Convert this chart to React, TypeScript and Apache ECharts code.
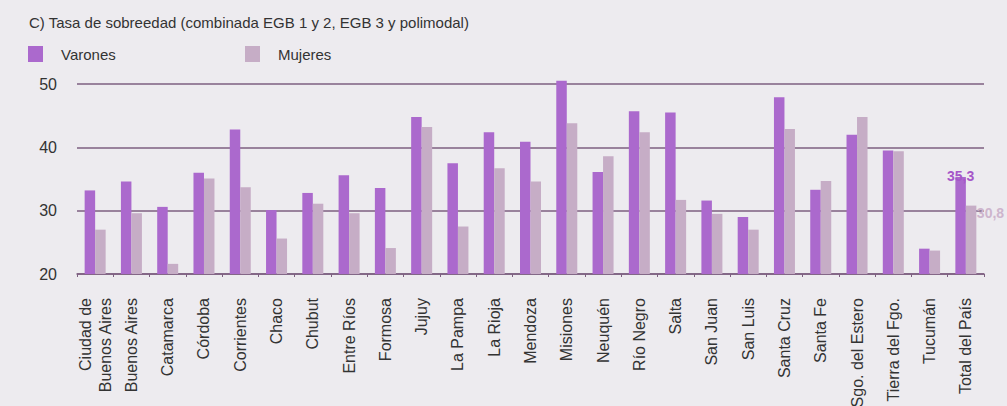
import React, { useEffect, useRef } from "react";
import * as echarts from "echarts";

const categories = [
  "Ciudad de\nBuenos Aires", "Buenos Aires", "Catamarca", "Córdoba", "Corrientes", "Chaco", "Chubut",
  "Entre Ríos", "Formosa", "Jujuy", "La Pampa", "La Rioja", "Mendoza", "Misiones", "Neuquén",
  "Río Negro", "Salta", "San Juan", "San Luis", "Santa Cruz", "Santa Fe", "Sgo. del Estero",
  "Tierra del Fgo.", "Tucumán", "Total del País",
];
const varones = [33.2, 34.6, 30.6, 36.0, 42.8, 30.1, 32.8, 35.6, 33.6, 44.8, 37.5, 42.4, 40.9, 50.5, 36.1, 45.7, 45.5, 31.6, 29.0, 47.9, 33.3, 42.0, 39.5, 24.0, 35.3];
const mujeres = [27.0, 29.6, 21.6, 35.1, 33.7, 25.6, 31.1, 29.6, 24.1, 43.2, 27.5, 36.7, 34.6, 43.8, 38.6, 42.4, 31.7, 29.5, 27.0, 42.9, 34.7, 44.8, 39.4, 23.7, 30.8];
const yTicks = [20, 30, 40, 50];
const yMax = 51;

const FONT = "Liberation Sans, Arial, Helvetica, sans-serif";
const C_V = "#ab69cd";
const C_M = "#c6adc6";
const C_GRID = "#7d5f80";

export default function App() {
  const ref = useRef<HTMLDivElement>(null);
  useEffect(() => {
    document.body.style.margin = "0";
    const chart = echarts.init(ref.current!, null, { renderer: "svg" });
    const last = categories.length - 1;
    chart.setOption({
      animation: false,
      backgroundColor: "#edebef",
      textStyle: { fontFamily: FONT },
      title: {
        text: "C) Tasa de sobreedad (combinada EGB 1 y 2, EGB 3 y polimodal)",
        left: 24,
        top: 10,
        textStyle: { fontSize: 15, fontWeight: "normal", color: "#333333", fontFamily: FONT },
      },
      legend: [
        {
          data: ["Varones"], left: 23, top: 41, itemWidth: 15, itemHeight: 16, icon: "rect",
          textStyle: { fontSize: 15, color: "#333333", fontFamily: FONT, padding: [0, 0, 0, 13] },
        },
        {
          data: ["Mujeres"], left: 240, top: 41, itemWidth: 15, itemHeight: 16, icon: "rect",
          textStyle: { fontSize: 15, color: "#333333", fontFamily: FONT, padding: [0, 0, 0, 13] },
        },
      ],
      grid: { left: 77, right: 23, top: 77.7, bottom: 132, containLabel: false, outerBoundsMode: "none" },
      xAxis: {
        type: "category",
        data: categories,
        axisLine: { show: true, lineStyle: { color: C_GRID, width: 1.5 } },
        axisTick: { show: true, length: 3, lineStyle: { color: C_GRID } },
        axisLabel: {
          rotate: 90, interval: 0, margin: 24, fontSize: 16, color: "#333333", fontFamily: FONT, lineHeight: 20,
          hideOverlap: false,
        },
      },
      yAxis: {
        type: "value",
        min: yTicks[0],
        max: yMax,
        interval: 10,
        axisLine: { show: false },
        axisTick: { show: false },
        axisLabel: {
          margin: 20, fontSize: 16, color: "#333333", fontFamily: FONT, showMaxLabel: false,
          formatter: (v: number) => (yTicks.includes(v) ? String(v) : ""),
        },
        splitLine: { lineStyle: { color: C_GRID, width: 1.5 }, showMaxLine: false },
      },
      series: [
        {
          name: "Varones",
          type: "bar",
          data: varones.map((v, i) =>
            i === last
              ? {
                  value: v,
                  label: {
                    show: true, position: "top", distance: -6,
                    formatter: () => v.toFixed(1).replace(".", ","),
                    fontSize: 14, fontWeight: "bold", color: "#a657c9", fontFamily: FONT,
                  },
                }
              : v
          ),
          barWidth: 10.5,
          barGap: "0%",
          itemStyle: { color: C_V },
        },
        {
          name: "Mujeres",
          type: "bar",
          data: mujeres.map((v, i) =>
            i === last
              ? {
                  value: v,
                  label: {
                    show: true, position: [11, 0],
                    formatter: () => v.toFixed(1).replace(".", ","),
                    fontSize: 14, fontWeight: "bold", color: "#cdb5cd", fontFamily: FONT,
                  },
                }
              : v
          ),
          barWidth: 10.5,
          itemStyle: { color: C_M },
        },
      ],
    });
    return () => chart.dispose();
  }, []);
  return <div ref={ref} style={{ width: 1007, height: 406 }} />;
}
